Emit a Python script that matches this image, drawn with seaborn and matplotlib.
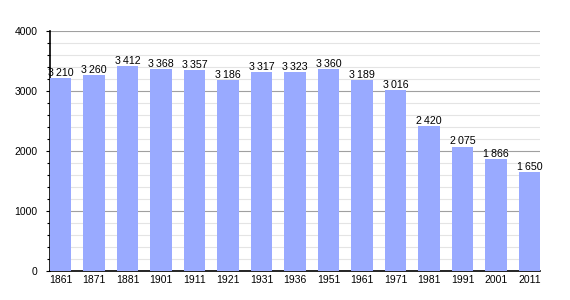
import matplotlib
matplotlib.use("Agg")
import matplotlib.pyplot as plt
import seaborn as sns
import pandas as pd
from matplotlib.ticker import MultipleLocator

years = ["1861", "1871", "1881", "1901", "1911", "1921", "1931", "1936",
         "1951", "1961", "1971", "1981", "1991", "2001", "2011"]
population = [3210, 3260, 3412, 3368, 3357, 3186, 3317, 3323,
              3360, 3189, 3016, 2420, 2075, 1866, 1650]

sns.set_style("white")
plt.rcParams['font.family'] = ['Liberation Sans', 'DejaVu Sans']
plt.rcParams['text.color'] = 'black'
plt.rcParams['xtick.color'] = 'black'
plt.rcParams['ytick.color'] = 'black'

df = pd.DataFrame({"year": years, "population": population})

fig = plt.figure(figsize=(5.7, 3.0), dpi=100)
ax = fig.add_axes([50/570, 29/300, 490/570, 240/300])

sns.barplot(data=df, x="year", y="population", color="#99aaff",
            saturation=1, width=0.63, ax=ax, zorder=3, linewidth=0,
            edgecolor="none")

ax.set_xlim(-0.315, 14.315)
ax.set_ylim(0, 4000)
ax.yaxis.set_major_locator(MultipleLocator(1000))
ax.yaxis.set_minor_locator(MultipleLocator(200))
ax.grid(which="major", axis="y", color="#a0a0a0", linewidth=0.8, zorder=0)
ax.grid(which="minor", axis="y", color="#e4e4e4", linewidth=0.8, zorder=0)
ax.set_axisbelow(True)

for s in ["top", "right"]:
    ax.spines[s].set_visible(False)
for s in ["left", "bottom"]:
    ax.spines[s].set_color("black")
    ax.spines[s].set_linewidth(1.2)

ax.tick_params(axis="y", which="major", length=3, width=0.8, direction="out",
               left=True, labelsize=7.5, pad=6, colors="black")
ax.tick_params(axis="y", which="minor", length=2, width=0.8, direction="out",
               left=True, colors="black")
ax.tick_params(axis="x", length=0, labelsize=7.5, pad=3, colors="black")
ax.set_xlabel("")
ax.set_ylabel("")

for i, v in enumerate(population):
    lab = f"{v:,}".replace(",", "\u2009")
    ax.text(i, v, lab, ha="center", va="bottom", fontsize=7.7, color="black",
            zorder=4)

fig.savefig("out.png", dpi=100)
